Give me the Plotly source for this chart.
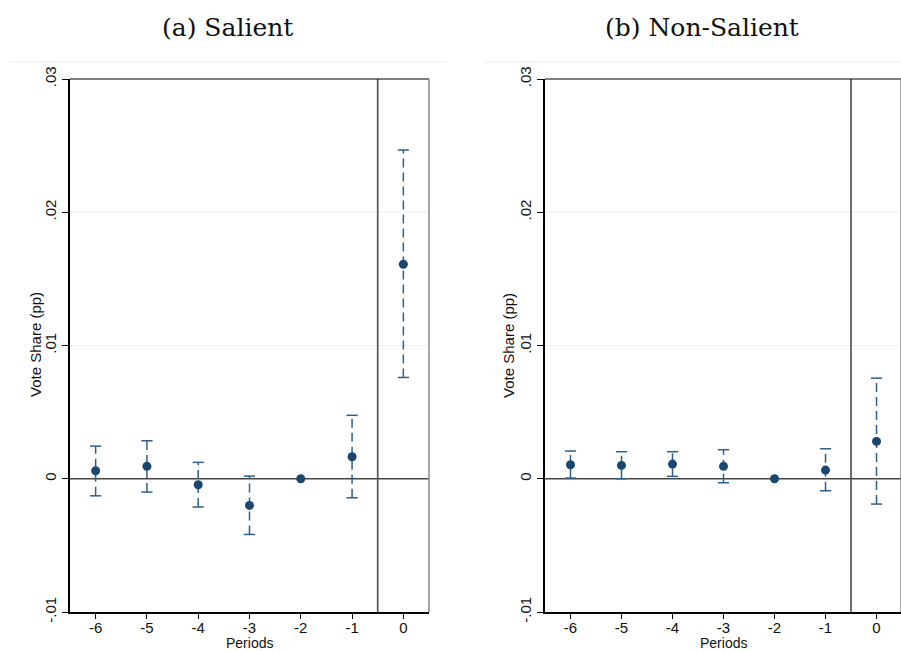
import plotly.graph_objects as go

periods = [-6, -5, -4, -3, -2, -1, 0]
tick_labels_x = ["-6", "-5", "-4", "-3", "-2", "-1", "0"]
y_ticks = [-0.01, 0, 0.01, 0.02, 0.03]
y_tick_labels = ["-.01", "0", ".01", ".02", ".03"]
grid_vals = [0.01, 0.02]

sal_coef = [0.0006, 0.00093, -0.00045, -0.0020, 0.0, 0.00165, 0.0161]
sal_hi = [0.00245, 0.00285, 0.00123, 0.0002, 0.0, 0.00476, 0.02467]
sal_lo = [-0.00128, -0.0010, -0.00212, -0.00418, 0.0, -0.00143, 0.0076]

non_coef = [0.00105, 0.0010, 0.0011, 0.00093, 0.0, 0.00065, 0.0028]
non_hi = [0.00208, 0.00203, 0.00203, 0.00218, 0.0, 0.00225, 0.00755]
non_lo = [0.00005, 0.0, 0.00018, -0.0003, 0.0, -0.0009, -0.0019]

titles = ["(a) Salient", "(b) Non-Salient"]

W, H = 901, 651
NAVY = "#1a476f"
BAR = "#2f5f8a"
SANS = "Liberation Sans, Arial, sans-serif"

fig = go.Figure()

panels = [
    dict(coef=sal_coef, hi=sal_hi, lo=sal_lo, xa="x", ya="y",
         dom=[70 / W, 429 / W], rng=[-6.5, 0.5], title_x=228, region=[10, 446],
         ytx=35, xtx=249),
    dict(coef=non_coef, hi=non_hi, lo=non_lo, xa="x2", ya="y2",
         dom=[545 / W, 1.0], rng=[-6.5, 0.48], title_x=702, region=[484, 901],
         ytx=508, xtx=723),
]

ydom = [1 - 612 / H, 1 - 79 / H]
YR = [-0.01, 0.03]

for i, p in enumerate(panels):
    xa, ya = p["xa"], p["ya"]
    for g in grid_vals:
        fig.add_trace(go.Scatter(x=[p["rng"][0], p["rng"][1]], y=[g, g], mode="lines",
                                 xaxis=xa, yaxis=ya, line=dict(color="#e8f0f1", width=1),
                                 showlegend=False, hoverinfo="skip"))
    fig.add_trace(go.Scatter(x=[p["rng"][0], p["rng"][1]], y=[0, 0], mode="lines",
                             xaxis=xa, yaxis=ya, line=dict(color="#444444", width=1.7),
                             showlegend=False, hoverinfo="skip"))
    fig.add_trace(go.Scatter(x=[-0.5, -0.5], y=YR, mode="lines",
                             xaxis=xa, yaxis=ya, line=dict(color="#555555", width=1.7),
                             showlegend=False, hoverinfo="skip"))

    xs, ys = [], []
    capx, capy = [], []
    for x, c, lo, hi in zip(periods, p["coef"], p["lo"], p["hi"]):
        if hi == lo:
            continue
        xs += [x, x, None]
        ys += [lo, hi, None]
        capx += [x, x]
        capy += [lo, hi]
    fig.add_trace(go.Scatter(x=xs, y=ys, mode="lines", xaxis=xa, yaxis=ya,
                             line=dict(color=BAR, width=1.5, dash="9px,5px"),
                             showlegend=False, hoverinfo="skip"))
    fig.add_trace(go.Scatter(x=capx, y=capy, mode="markers", xaxis=xa, yaxis=ya,
                             marker=dict(symbol="line-ew", size=8,
                                         line=dict(color=BAR, width=1.5)),
                             showlegend=False, hoverinfo="skip"))
    fig.add_trace(go.Scatter(x=periods, y=p["coef"], mode="markers", xaxis=xa, yaxis=ya,
                             marker=dict(color=NAVY, size=9),
                             showlegend=False))

    sfx = "" if i == 0 else "2"
    fig.update_layout(**{
        "xaxis" + sfx: dict(domain=p["dom"], range=p["rng"], tickvals=periods,
                            ticktext=tick_labels_x, ticks="outside", ticklen=5,
                            tickcolor="black", showgrid=False, zeroline=False,
                            showline=True, linecolor="black", linewidth=1.5,
                            anchor="y" + sfx, automargin=False, ticklabelstandoff=-4,
                            tickfont=dict(family=SANS, size=15, color="#111")),
        "yaxis" + sfx: dict(domain=ydom, range=YR, tickvals=y_ticks,
                            ticktext=y_tick_labels, tickangle=-90, ticks="outside",
                            ticklen=6, tickcolor="black", showgrid=False, zeroline=False,
                            showline=True, linecolor="black", linewidth=1.5,
                            anchor="x" + sfx, automargin=False,
                            tickfont=dict(family=SANS, size=15, color="#111")),
    })

    fig.add_shape(type="line", xref=xa + " domain", yref=ya + " domain", x0=0, x1=1, y0=1, y1=1,
                  line=dict(color="black", width=1.2))
    fig.add_shape(type="line", xref=xa + " domain", yref=ya + " domain", x0=1, x1=1, y0=0, y1=1,
                  line=dict(color="#888", width=1.5))
    fig.add_shape(type="line", xref="paper", yref="paper",
                  x0=p["region"][0] / W, x1=p["region"][1] / W, y0=1 - 62 / H, y1=1 - 62 / H,
                  line=dict(color="#e6eef0", width=1))

    fig.add_annotation(text=titles[i], xref="paper", yref="paper",
                       x=p["title_x"] / W, y=1 - 27 / H, showarrow=False,
                       xanchor="center", yanchor="middle",
                       font=dict(family="DejaVu Serif", size=25, color="#111"))
    fig.add_annotation(text="Vote Share (pp)", xref="paper", yref="paper",
                       x=p["ytx"] / W, y=1 - 345 / H, showarrow=False, textangle=-90,
                       xanchor="center", yanchor="middle",
                       font=dict(family=SANS, size=15, color="#111"))
    fig.add_annotation(text="Periods", xref="paper", yref="paper",
                       x=p["xtx"] / W, y=0, showarrow=False,
                       xanchor="center", yanchor="bottom", yshift=-2,
                       font=dict(family=SANS, size=14, color="#111"))

fig.update_layout(width=W, height=H, margin=dict(l=0, r=0, t=0, b=0, pad=0),
                  paper_bgcolor="white", plot_bgcolor="white", showlegend=False)

fig.write_html("out.html")
